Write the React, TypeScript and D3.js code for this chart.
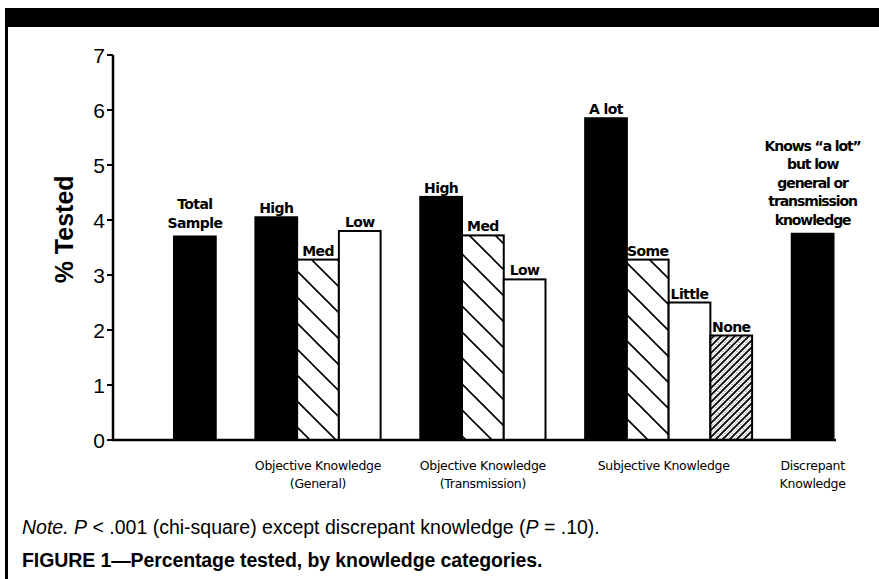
import React from "react";
import * as d3 from "d3";

const barLabels = [
  "Total\nSample",
  "High", "Med", "Low",
  "High", "Med", "Low",
  "A lot", "Some", "Little", "None",
  "Knows \u201Ca lot\u201D\nbut low\ngeneral or\ntransmission\nknowledge",
];
const barValues = [3.7, 4.05, 3.28, 3.8, 4.42, 3.72, 2.92, 5.85, 3.28, 2.5, 1.9, 3.75];
const barFills = ["solid", "solid", "hatch", "open", "solid", "hatch", "open", "solid", "hatch", "open", "dense", "solid"];
const barGroups = [0, 1, 1, 1, 2, 2, 2, 3, 3, 3, 3, 4];
const groupLabels = ["", "Objective Knowledge\n(General)", "Objective Knowledge\n(Transmission)", "Subjective Knowledge", "Discrepant\nKnowledge"];
const yTicks = [0, 1, 2, 3, 4, 5, 6, 7];
const yLabel = "% Tested";
const noteText = "(chi-square) except discrepant knowledge (";
const captionText = "FIGURE 1\u2014Percentage tested, by knowledge categories.";

export default function App() {
  const W = 879, H = 579;
  const y = d3.scaleLinear().domain([0, 7]).range([440, 55]);
  const groupGap = 0.95;
  const slots: number[] = [];
  let s = 0;
  barGroups.forEach((g, i) => {
    if (i > 0 && g !== barGroups[i - 1]) s += groupGap;
    slots.push(s);
    s += 1;
  });
  const x = d3.scaleLinear().domain([0, s]).range([174, 833.5]);
  const bw = x(1) - x(0);

  const fillFor = (f: string) =>
    f === "solid" ? "#000" : f === "hatch" ? "url(#hatch)" : f === "dense" ? "url(#dense)" : "#fff";

  const groupIds = Array.from(new Set(barGroups));
  const groupCenter = (g: number) => {
    const idx = barGroups.map((v, i) => (v === g ? i : -1)).filter((i) => i >= 0);
    const x0 = x(slots[idx[0]]);
    const x1 = x(slots[idx[idx.length - 1]] + 1);
    return (x0 + x1) / 2;
  };

  return (
    <svg width={W} height={H} style={{ position: "absolute", left: 0, top: 0, background: "#fff" }}>
      <defs>
        <pattern id="hatch" patternUnits="userSpaceOnUse" width={26} height={26}>
          <rect width={26} height={26} fill="#fff" />
          <path d="M0,0L26,26M-3,23L3,29M23,-3L29,3" stroke="#000" strokeWidth={1.6} />
        </pattern>
        <pattern id="dense" patternUnits="userSpaceOnUse" width={7} height={7}>
          <rect width={7} height={7} fill="#fff" />
          <path d="M0,7L7,0M-1,1L1,-1M6,8L8,6" stroke="#000" strokeWidth={1.8} />
          <path d="M0,3.5L3.5,0M3.5,7L7,3.5" stroke="#000" strokeWidth={0.8} strokeDasharray="1,1.5" />
        </pattern>
      </defs>

      {/* frame */}
      <rect x={5} y={8} width={W - 5} height={19} fill="#000" />
      <rect x={5} y={8} width={3} height={H - 8} fill="#000" />

      {/* bars */}
      {barValues.map((v, i) => (
        <rect
          key={"b" + i}
          x={x(slots[i])}
          y={y(v)}
          width={bw}
          height={y(0) - y(v)}
          fill={fillFor(barFills[i])}
          stroke="#000"
          strokeWidth={2}
        />
      ))}

      {/* bar labels */}
      {barLabels.map((lab, i) => {
        const lines = lab.split("\n");
        const gap = lines.length > 1 ? 9 : 4;
        const lh = 18.5;
        const cx = x(slots[i]) + bw / 2;
        return (
          <text
            key={"l" + i}
            x={cx}
            textAnchor="middle"
            fontFamily="DejaVu Sans"
            fontWeight="bold"
            fontSize={14}
            letterSpacing={lines.length > 2 ? -1.1 : -0.6}
          >
            {lines.map((ln, k) => (
              <tspan key={k} x={cx} y={y(barValues[i]) - gap - (lines.length - 1 - k) * lh}>
                {ln}
              </tspan>
            ))}
          </text>
        );
      })}

      {/* axes */}
      <line x1={113} x2={113} y1={y(7)} y2={y(0)} stroke="#000" strokeWidth={2.5} />
      <line x1={112} x2={836} y1={y(0)} y2={y(0)} stroke="#000" strokeWidth={2.5} />
      {yTicks.map((t) => (
        <g key={"t" + t}>
          <line x1={107} x2={113} y1={y(t)} y2={y(t)} stroke="#000" strokeWidth={2} />
          <text
            x={105}
            y={y(t)}
            dy="0.36em"
            textAnchor="end"
            fontFamily="Liberation Sans"
            fontSize={21}
          >
            {t}
          </text>
        </g>
      ))}
      <text
        transform={`translate(73,${y(3.83)}) rotate(-90)`}
        textAnchor="middle"
        fontFamily="Liberation Sans"
        fontWeight="bold"
        fontSize={25}
      >
        {yLabel}
      </text>

      {/* group labels */}
      {groupIds.map((g) => {
        const lines = groupLabels[g].split("\n");
        const cx = groupCenter(g) - (g === 3 ? 5 : 0);
        return (
          <text key={"g" + g} textAnchor="middle" fontFamily="DejaVu Sans" fontSize={12.5} letterSpacing={-0.3}>
            {lines.map((ln, k) => (
              <tspan key={k} x={cx} y={470 + k * 18}>
                {ln}
              </tspan>
            ))}
          </text>
        );
      })}

      {/* note and caption */}
      <text x={22} y={534} fontFamily="Liberation Sans" fontSize={19.5}>
        <tspan fontStyle="italic">Note.</tspan>
        <tspan> </tspan>
        <tspan fontStyle="italic">P</tspan>
        <tspan>{" < .001 " + noteText}</tspan>
        <tspan fontStyle="italic">P</tspan>
        <tspan>{" = .10)."}</tspan>
      </text>
      <text x={22} y={567} fontFamily="Liberation Sans" fontWeight="bold" fontSize={19.5} letterSpacing={-0.1}>
        {captionText}
      </text>
    </svg>
  );
}
